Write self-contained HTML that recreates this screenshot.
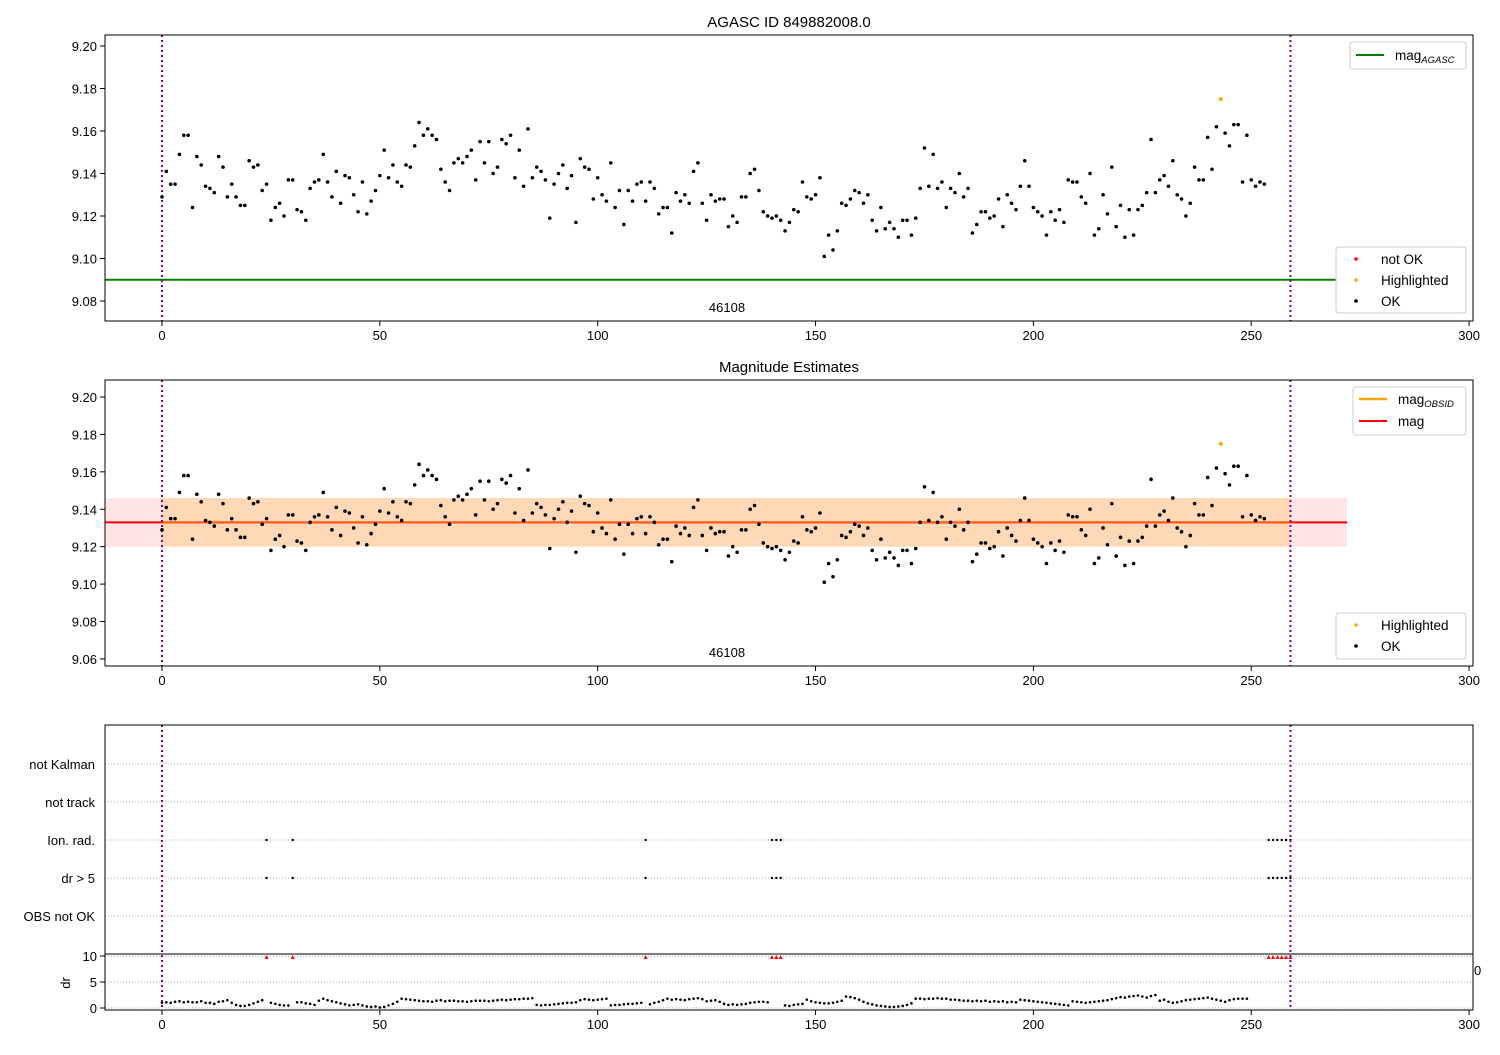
<!DOCTYPE html>
<html><head><meta charset="utf-8"><style>
body{margin:0;background:#fff}
svg text{font-family:"Liberation Sans","DejaVu Sans",sans-serif;fill:#000}
</style></head><body>
<svg id="c" width="1500" height="1050" viewBox="0 0 1500 1050" xmlns="http://www.w3.org/2000/svg"></svg>
<script>
const mags=[9.129,9.141,9.135,9.135,9.149,9.158,9.158,9.124,9.148,9.144,9.134,9.133,9.131,9.148,9.143,9.129,9.135,9.129,9.125,9.125,9.146,9.143,9.144,9.132,9.135,9.118,9.124,9.126,9.120,9.137,9.137,9.123,9.122,9.118,9.133,9.136,9.137,9.149,9.136,9.129,9.141,9.126,9.139,9.138,9.130,9.122,9.136,9.121,9.127,9.132,9.139,9.151,9.138,9.144,9.136,9.134,9.144,9.143,9.153,9.164,9.158,9.161,9.158,9.156,9.142,9.136,9.132,9.145,9.147,9.145,9.148,9.151,9.137,9.155,9.145,9.155,9.140,9.143,9.156,9.154,9.158,9.138,9.151,9.134,9.161,9.138,9.143,9.141,9.137,9.119,9.135,9.140,9.144,9.133,9.139,9.117,9.147,9.143,9.142,9.128,9.138,9.130,9.127,9.145,9.124,9.132,9.116,9.132,9.127,9.135,9.136,9.127,9.136,9.133,9.121,9.124,9.124,9.112,9.131,9.127,9.130,9.126,9.141,9.145,9.126,9.118,9.130,9.127,9.128,9.128,9.115,9.120,9.117,9.129,9.129,9.140,9.142,9.132,9.122,9.120,9.119,9.120,9.118,9.113,9.117,9.123,9.122,9.136,9.129,9.128,9.130,9.138,9.101,9.111,9.104,9.113,9.126,9.125,9.128,9.132,9.131,9.126,9.130,9.118,9.113,9.124,9.114,9.117,9.114,9.110,9.118,9.118,9.111,9.119,9.133,9.152,9.134,9.149,9.133,9.136,9.124,9.133,9.131,9.140,9.129,9.133,9.112,9.116,9.122,9.122,9.119,9.120,9.128,9.115,9.130,9.126,9.123,9.134,9.146,9.134,9.124,9.122,9.120,9.111,9.122,9.118,9.123,9.117,9.137,9.136,9.136,9.129,9.126,9.140,9.111,9.114,9.130,9.121,9.143,9.115,9.125,9.110,9.123,9.111,9.123,9.125,9.131,9.156,9.131,9.137,9.139,9.134,9.146,9.130,9.128,9.120,9.126,9.143,9.137,9.137,9.157,9.142,9.162,9.175,9.159,9.153,9.163,9.163,9.136,9.158,9.137,9.134,9.136,9.135];
const highlighted=[243];
const flagged=[24,30,111,140,141,142,254,255,256,257,258,259];
const drVals=[1.0,1.1,1.0,1.2,1.3,1.1,1.2,1.1,1.1,1.3,1.0,1.0,0.8,1.2,1.3,1.5,1.0,0.6,0.4,0.4,0.6,0.9,1.2,1.5,null,1.0,0.8,0.6,0.5,0.5,null,1.1,1.1,0.9,0.8,0.6,1.4,1.8,1.5,1.3,1.1,0.9,0.7,0.5,0.6,0.7,0.5,0.3,0.2,0.3,0.1,0.2,0.5,0.8,1.2,1.8,1.7,1.6,1.5,1.4,1.3,1.3,1.2,1.4,1.5,1.3,1.4,1.4,1.3,1.3,1.2,1.3,1.4,1.4,1.4,1.3,1.4,1.5,1.6,1.5,1.6,1.7,1.7,1.8,1.8,1.9,0.6,0.5,0.6,0.6,0.7,0.8,0.9,1.0,1.0,1.1,1.5,1.7,1.6,1.5,1.6,1.7,1.8,0.5,0.6,0.6,0.7,0.8,0.8,0.9,1.0,null,0.7,1.0,1.2,1.5,1.8,1.6,1.7,1.6,1.5,1.7,1.8,1.9,1.7,1.3,1.4,1.5,1.2,0.8,0.6,0.7,0.6,0.7,0.8,1.0,1.1,1.2,1.2,1.1,null,null,null,0.5,0.4,0.6,0.7,0.8,1.6,1.3,1.1,1.0,0.9,0.9,1.0,1.2,1.4,2.2,2.1,1.9,1.6,1.2,0.9,0.7,0.5,0.4,0.3,0.2,0.2,0.3,0.4,0.6,0.9,1.8,1.8,1.7,1.8,1.8,1.9,1.8,1.8,1.6,1.6,1.5,1.4,1.4,1.3,1.4,1.3,1.4,1.2,1.3,1.2,1.3,1.1,1.2,1.1,1.6,1.5,1.4,1.3,1.2,1.1,1.0,0.9,0.8,0.7,0.6,0.5,1.3,1.2,1.1,1.0,1.1,1.2,1.3,1.4,1.5,1.7,1.9,2.1,2.0,2.2,2.3,2.4,2.2,2.0,2.3,2.5,1.4,1.6,1.2,1.0,1.1,1.3,1.5,1.6,1.7,1.8,1.9,2.0,1.8,1.6,1.4,1.2,1.5,1.7,1.8,1.8,1.8];
const flagRows=["not Kalman","not track","Ion. rad.","dr > 5","OBS not OK"];
const flagRowFor=[2,3];
const xTicks=[0,50,100,150,200,250,300];
const y1Ticks=[9.08,9.10,9.12,9.14,9.16,9.18,9.20];
const y2Ticks=[9.06,9.08,9.10,9.12,9.14,9.16,9.18,9.20];
const drTicks=[0,5,10];
const magAgasc=9.09, magMean=9.133, magLo=9.120, magHi=9.146, vlines=[0,259], bandEnd=272;

const S=document.getElementById('c'),NS='http://www.w3.org/2000/svg';
function el(t,a,txt){const e=document.createElementNS(NS,t);for(const k in a)e.setAttribute(k,a[k]);if(txt!==undefined)e.textContent=txt;S.appendChild(e);return e;}
const X=v=>162+v*4.357;
const Y1=m=>46+(9.20-m)*2125;
const Y2=m=>397+(9.20-m)*1871;
const YR=i=>764+i*38;
const YD=d=>1008-d*5.2;
const L=105,R=1473;

function xAxis(yb,nm){xTicks.forEach(t=>{let l=el('line',{x1:X(t),x2:X(t),y1:yb,y2:yb+5,stroke:'#000'});
let tx=el('text',{x:X(t),y:yb+19,'font-size':13,'text-anchor':'middle'},t);});}
function yAxis(ticks,f,nm,fmt){ticks.forEach(t=>{let l=el('line',{x1:L-5,x2:L,y1:f(t),y2:f(t),stroke:'#000'});
let tx=el('text',{x:L-8,y:f(t)+5,'font-size':13,'text-anchor':'end'},fmt(t));});}
function frame(t,b,nm){let r=el('rect',{x:L,y:t,width:R-L,height:b-t,fill:'none',stroke:'#000'});}
function vl(t,b){vlines.forEach(v=>{let l=el('line',{x1:X(v),x2:X(v),y1:t,y2:b,stroke:'purple','stroke-width':2,'stroke-dasharray':'2,3'});});}
function dots(f,nm){mags.forEach((m,i)=>{const hl=highlighted.includes(i);let c=el('circle',{cx:X(i),cy:f(m),r:hl?2:1.8,fill:hl?'orange':'#000'});});}

// Panel 1
let t1=el('text',{x:789,y:27,'font-size':15,'text-anchor':'middle'},'AGASC ID 849882008.0');
let g1=el('line',{x1:L,x2:X(bandEnd),y1:Y1(magAgasc),y2:Y1(magAgasc),stroke:'green','stroke-width':2});
vl(35,321);dots(Y1,'top');
let o1=el('text',{x:727,y:312,'font-size':13,'text-anchor':'middle'},'46108');
frame(35,321,'top-axes');xAxis(321,'top-x');yAxis(y1Ticks,Y1,'top-y',t=>t.toFixed(2));

// Panel 2
let t2=el('text',{x:789,y:372,'font-size':15,'text-anchor':'middle'},'Magnitude Estimates');
let b1=el('rect',{x:L,y:Y2(magHi),width:X(bandEnd)-L,height:Y2(magLo)-Y2(magHi),fill:'rgba(255,0,0,0.1)'});
let b2=el('rect',{x:X(vlines[0]),y:Y2(magHi),width:X(vlines[1])-X(vlines[0]),height:Y2(magLo)-Y2(magHi),fill:'rgba(255,165,0,0.2)'});
let m2=el('line',{x1:L,x2:X(bandEnd),y1:Y2(magMean),y2:Y2(magMean),stroke:'red','stroke-width':2});
let m3=el('line',{x1:X(vlines[0]),x2:X(vlines[1]),y1:Y2(magMean),y2:Y2(magMean),stroke:'orange','stroke-width':1.5,opacity:0.6});
vl(380,666);dots(Y2,'middle');
let o2=el('text',{x:727,y:657,'font-size':13,'text-anchor':'middle'},'46108');
frame(380,666,'middle-axes');xAxis(666,'mid-x');yAxis(y2Ticks,Y2,'mid-y',t=>t.toFixed(2));

// Legends
function legBox(x,y,w,h,nm){let r=el('rect',{x,y,width:w,height:h,rx:3,fill:'#fff',stroke:'#ccc'});}
function legText(x,y,s,sub,nm){let t=el('text',{x,y,'font-size':13.5});t.textContent=s;if(sub){const ts=document.createElementNS(NS,'tspan');ts.setAttribute('font-size','9.5');ts.setAttribute('font-style','italic');ts.setAttribute('dy','3');ts.textContent=sub;t.appendChild(ts);}}
legBox(1350,42,116,27,'legend-agasc');
el('line',{x1:1356,x2:1384,y1:55,y2:55,stroke:'green','stroke-width':2});legText(1395,60,'mag','AGASC','legend-agasc-label');
function legPts(x,y,items,nm){items.forEach((it,i)=>{let c=el('circle',{cx:x+20,cy:y+12+i*21,r:1.8,fill:it[1]});legText(x+45,y+17+i*21,it[0],null,nm+'-label');});}
legBox(1336,247,130,66,'legend-status-top');legPts(1336,247,[['not OK','red'],['Highlighted','orange'],['OK','#000']],'legend-status');
legBox(1353,387,113,48,'legend-mag');
el('line',{x1:1359,x2:1387,y1:399,y2:399,stroke:'orange','stroke-width':2.5});legText(1398,404,'mag','OBSID','legend-mag-obsid-label');
el('line',{x1:1359,x2:1387,y1:421,y2:421,stroke:'red','stroke-width':2});legText(1398,426,'mag',null,'legend-mag-label');
legBox(1336,613,130,46,'legend-status-mid');legPts(1336,613,[['Highlighted','orange'],['OK','#000']],'legend-status-mid');

// Panel 3 flags
flagRows.forEach((r,i)=>{let g=el('line',{x1:L,x2:R,y1:YR(i),y2:YR(i),stroke:'#aaa','stroke-dasharray':'1,2'});
let t=el('text',{x:L-10,y:YR(i)+5,'font-size':13,'text-anchor':'end'},r);});
flagged.forEach(f=>flagRowFor.forEach(ri=>{let c=el('circle',{cx:X(f),cy:YR(ri),r:1.2,fill:'#000'});}));
drTicks.forEach(t=>{let g=el('line',{x1:L,x2:R,y1:YD(t),y2:YD(t),stroke:'#aaa','stroke-dasharray':'1,2'});});
drVals.forEach((d,i)=>{if(d===null)return;let c=el('circle',{cx:X(i),cy:YD(d),r:1.3,fill:'#000'});});
flagged.forEach(f=>{const x=X(f),y=YD(10)+1;let p=el('polygon',{points:`${x-2},${y+2} ${x+2},${y+2} ${x},${y-2}`,fill:'red'});});
vl(725,1010);
let fr=el('rect',{x:L,y:725,width:R-L,height:229,fill:'none',stroke:'#000'});
let fd=el('rect',{x:L,y:954,width:R-L,height:56,fill:'none',stroke:'#000'});
xAxis(1010,'bottom-x');yAxis(drTicks,YD,'dr-y',t=>t);
let dl=el('text',{x:0,y:0,'font-size':13,'text-anchor':'middle',transform:'translate(70,983) rotate(-90)'},'dr');
let z=el('text',{x:1474,y:975,'font-size':13},'0');
</script></body></html>
